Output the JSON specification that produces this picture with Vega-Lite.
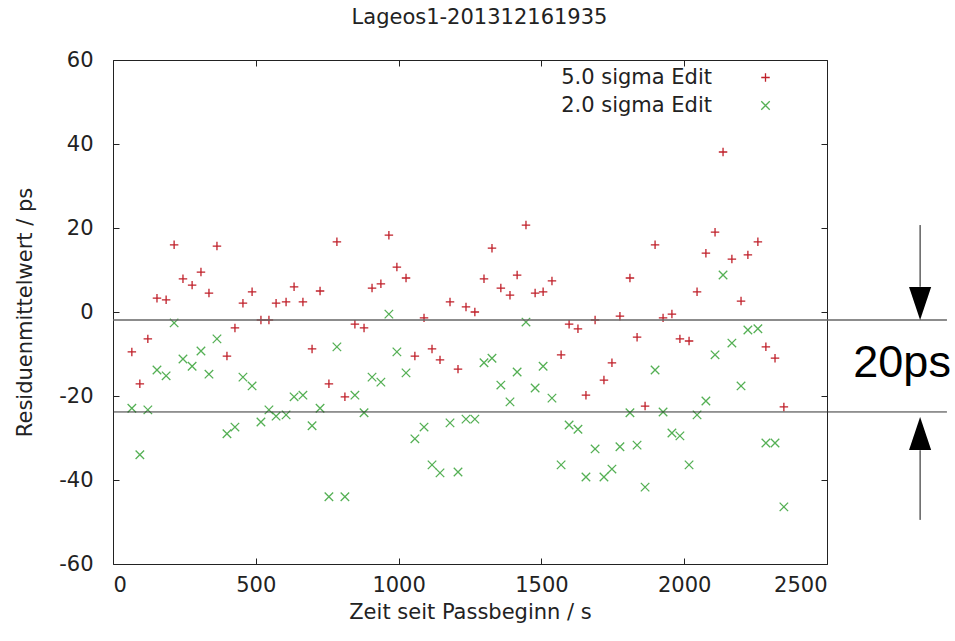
{
  "$schema": "https://vega.github.io/schema/vega-lite/v6.json",
  "width": 714,
  "height": 504,
  "autosize": {"type": "none"},
  "padding": {"left": 113, "top": 60, "right": 128, "bottom": 77},
  "background": "white",
  "config": {
    "font": "DejaVu Sans",
    "view": {"stroke": "#222", "strokeWidth": 1},
    "axis": {
      "grid": false, "domain": false, "tickColor": "#222", "tickSize": -6, "tickWidth": 1,
      "labelFont": "DejaVu Sans", "labelFontSize": 21, "labelColor": "#222",
      "titleFont": "DejaVu Sans", "titleFontSize": 21, "titleFontWeight": "normal", "titleColor": "#222"
    }
  },
  "datasets": {
    "res": [
      {"t":66,"r":-9.5,"g":-22.9},{"t":94,"r":-17.1,"g":-34.0},{"t":122,"r":-6.4,"g":-23.3},{"t":154,"r":3.3,"g":-13.8},
      {"t":186,"r":2.9,"g":-15.2},{"t":214,"r":16.0,"g":-2.6},{"t":245,"r":7.9,"g":-11.2},{"t":277,"r":6.4,"g":-12.9},
      {"t":308,"r":9.5,"g":-9.3},{"t":336,"r":4.5,"g":-14.8},{"t":364,"r":15.7,"g":-6.4},{"t":399,"r":-10.5,"g":-29.0},
      {"t":427,"r":-3.8,"g":-27.4},{"t":455,"r":2.1,"g":-15.5},{"t":487,"r":4.8,"g":-17.6},{"t":518,"r":-1.9,"g":-26.2},
      {"t":546,"r":-1.9,"g":-23.3},{"t":571,"r":2.1,"g":-24.8},{"t":606,"r":2.4,"g":-24.5},{"t":634,"r":6.0,"g":-20.2},
      {"t":665,"r":2.4,"g":-19.8},{"t":697,"r":-8.8,"g":-27.1},{"t":725,"r":5.0,"g":-22.9},{"t":756,"r":-17.1,"g":-44.0},
      {"t":784,"r":16.7,"g":-8.3},{"t":812,"r":-20.2,"g":-44.0},{"t":847,"r":-2.9,"g":-19.8},{"t":879,"r":-3.8,"g":-24.0},
      {"t":907,"r":5.7,"g":-15.5},{"t":938,"r":6.7,"g":-16.7},{"t":966,"r":18.3,"g":-0.5},{"t":994,"r":10.7,"g":-9.5},
      {"t":1026,"r":8.1,"g":-14.5},{"t":1057,"r":-10.5,"g":-30.2},{"t":1089,"r":-1.4,"g":-27.4},{"t":1117,"r":-8.8,"g":-36.4},
      {"t":1145,"r":-11.4,"g":-38.3},{"t":1180,"r":2.4,"g":-26.4},{"t":1208,"r":-13.6,"g":-38.1},{"t":1236,"r":1.2,"g":-25.5},
      {"t":1267,"r":0.0,"g":-25.5},{"t":1299,"r":7.9,"g":-12.1},{"t":1327,"r":15.2,"g":-11.0},{"t":1358,"r":5.7,"g":-17.4},
      {"t":1390,"r":4.0,"g":-21.4},{"t":1415,"r":8.8,"g":-14.3},{"t":1446,"r":20.7,"g":-2.4},{"t":1478,"r":4.5,"g":-18.1},
      {"t":1506,"r":4.8,"g":-12.9},{"t":1537,"r":7.4,"g":-20.5},{"t":1569,"r":-10.2,"g":-36.4},{"t":1597,"r":-2.9,"g":-26.9},
      {"t":1628,"r":-4.0,"g":-27.9},{"t":1656,"r":-19.8,"g":-39.3},{"t":1688,"r":-1.9,"g":-32.6},{"t":1719,"r":-16.2,"g":-39.3},
      {"t":1747,"r":-12.1,"g":-37.4},{"t":1775,"r":-1.0,"g":-32.1},{"t":1810,"r":8.1,"g":-24.0},{"t":1835,"r":-6.0,"g":-31.7},
      {"t":1863,"r":-22.4,"g":-41.7},{"t":1898,"r":16.0,"g":-13.8},{"t":1926,"r":-1.4,"g":-23.8},{"t":1957,"r":-0.5,"g":-28.8},
      {"t":1985,"r":-6.4,"g":-29.5},{"t":2017,"r":-6.9,"g":-36.4},{"t":2045,"r":4.8,"g":-24.5},{"t":2076,"r":14.0,"g":-21.2},
      {"t":2108,"r":19.0,"g":-10.2},{"t":2136,"r":38.1,"g":8.8},{"t":2167,"r":12.6,"g":-7.4},{"t":2199,"r":2.6,"g":-17.6},
      {"t":2223,"r":13.6,"g":-4.3},{"t":2258,"r":16.7,"g":-4.0},{"t":2286,"r":-8.3,"g":-31.2},{"t":2318,"r":-11.0,"g":-31.2},
      {"t":2349,"r":-22.6,"g":-46.4}
    ]
  },
  "layer": [
    {
      "data": {"name": "res"},
      "transform": [{"fold": ["r", "g"], "as": ["series", "value"]}],
      "mark": {"type": "point", "filled": false, "strokeWidth": 1.3, "size": 72, "opacity": 1},
      "encoding": {
        "x": {"field": "t", "type": "quantitative", "scale": {"domain": [0, 2500], "nice": false, "zero": false},
          "axis": {"orient": "bottom", "values": [0, 500, 1000, 1500, 2000, 2500], "labelExpr": "'' + datum.value", "title": "Zeit seit Passbeginn / s", "labelPadding": 16, "titleX": 357, "titleY": 48, "titleBaseline": "middle", "titleAlign": "center"}},
        "y": {"field": "value", "type": "quantitative", "scale": {"domain": [-60, 60], "nice": false, "zero": false},
          "axis": {"orient": "left", "values": [-60, -40, -20, 0, 20, 40, 60], "labelExpr": "'' + datum.value", "title": "Residuenmittelwert / ps", "labelPadding": 26, "titleX": -88, "titleY": 252, "titleAngle": -90, "titleBaseline": "middle", "titleAlign": "center"}},
        "color": {"field": "series", "type": "nominal", "scale": {"domain": ["r", "g"], "range": ["#c0202a", "#55b055"]},
          "legend": {"title": null, "orient": "none", "legendX": 642, "legendY": 7, "labelAlign": "right", "labelOffset": -64, "labelFont": "DejaVu Sans", "labelFontSize": 21, "labelColor": "#222", "symbolSize": 72, "symbolStrokeWidth": 1.3, "rowPadding": 6, "padding": 0, "labelExpr": "datum.value == 'r' ? '5.0 sigma Edit' : '2.0 sigma Edit'"}},
        "shape": {"field": "series", "type": "nominal", "scale": {"domain": ["r", "g"], "range": ["M-1,0L1,0M0,-1L0,1", "M-1,-1L1,1M-1,1L1,-1"]},
          "legend": {"title": null, "orient": "none", "legendX": 642, "legendY": 7, "labelAlign": "right", "labelOffset": -64, "labelFont": "DejaVu Sans", "labelFontSize": 21, "labelColor": "#222", "symbolSize": 72, "symbolStrokeWidth": 1.3, "rowPadding": 6, "padding": 0, "labelExpr": "datum.value == 'r' ? '5.0 sigma Edit' : '2.0 sigma Edit'"}}
      }
    },
    {
      "data": {"values": [{"lvl": -1.9}]},
      "mark": {"type": "rule", "color": "#666", "strokeWidth": 1.5},
      "encoding": {
        "x": {"datum": 0, "type": "quantitative", "scale": {"domain": [0, 2500], "nice": false, "zero": false},
          "axis": {"orient": "top", "values": [0, 500, 1000, 1500, 2000, 2500], "labels": false, "title": "Lageos1-201312161935", "titleX": 366, "titleY": -37, "titleBaseline": "alphabetic", "titleAlign": "center"}},
        "x2": {"datum": 2920},
        "y": {"field": "lvl", "type": "quantitative", "scale": {"domain": [-60, 60], "nice": false, "zero": false},
          "axis": {"orient": "right", "values": [-60, -40, -20, 0, 20, 40, 60], "labels": false, "title": null}}
      }
    },
    {
      "data": {"values": [{"lvl": -23.8}]},
      "mark": {"type": "rule", "color": "#333", "strokeWidth": 1},
      "encoding": {
        "x": {"datum": 0, "type": "quantitative", "scale": {"domain": [0, 2500], "nice": false, "zero": false}, "axis": null},
        "x2": {"datum": 2920},
        "y": {"field": "lvl", "type": "quantitative", "scale": {"domain": [-60, 60], "nice": false, "zero": false}, "axis": null}
      }
    },
    {
      "data": {"values": [{"ax": 2826, "y1": 20.7, "y2": 6.0}, {"ax": 2826, "y1": -32.9, "y2": -49.5}]},
      "mark": {"type": "rule", "color": "#111", "strokeWidth": 1},
      "encoding": {
        "x": {"field": "ax", "type": "quantitative", "scale": {"domain": [0, 2500], "nice": false, "zero": false}, "axis": null},
        "y": {"field": "y1", "type": "quantitative", "scale": {"domain": [-60, 60], "nice": false, "zero": false}, "axis": null},
        "y2": {"field": "y2"}
      }
    },
    {
      "data": {"values": [{"ax": 2826, "ay": 2.0}]},
      "mark": {"type": "point", "filled": true, "color": "black", "opacity": 1, "strokeWidth": 0, "size": 1089, "shape": "M-0.67,-1L0.67,-1L0,1Z"},
      "encoding": {
        "x": {"field": "ax", "type": "quantitative", "scale": {"domain": [0, 2500], "nice": false, "zero": false}, "axis": null},
        "y": {"field": "ay", "type": "quantitative", "scale": {"domain": [-60, 60], "nice": false, "zero": false}, "axis": null}
      }
    },
    {
      "data": {"values": [{"ax": 2826, "ay": -28.9}]},
      "mark": {"type": "point", "filled": true, "color": "black", "opacity": 1, "strokeWidth": 0, "size": 1089, "shape": "M-0.67,1L0.67,1L0,-1Z"},
      "encoding": {
        "x": {"field": "ax", "type": "quantitative", "scale": {"domain": [0, 2500], "nice": false, "zero": false}, "axis": null},
        "y": {"field": "ay", "type": "quantitative", "scale": {"domain": [-60, 60], "nice": false, "zero": false}, "axis": null}
      }
    },
    {
      "data": {"values": [{"ax": 2763, "ay": -15.5, "label": "20ps"}]},
      "mark": {"type": "text", "font": "Liberation Sans", "fontSize": 45, "align": "center", "baseline": "alphabetic", "color": "black"},
      "encoding": {
        "x": {"field": "ax", "type": "quantitative", "scale": {"domain": [0, 2500], "nice": false, "zero": false}, "axis": null},
        "y": {"field": "ay", "type": "quantitative", "scale": {"domain": [-60, 60], "nice": false, "zero": false}, "axis": null},
        "text": {"field": "label"}
      }
    }
  ],
  "resolve": {"axis": {"x": "independent", "y": "independent"}}
}
